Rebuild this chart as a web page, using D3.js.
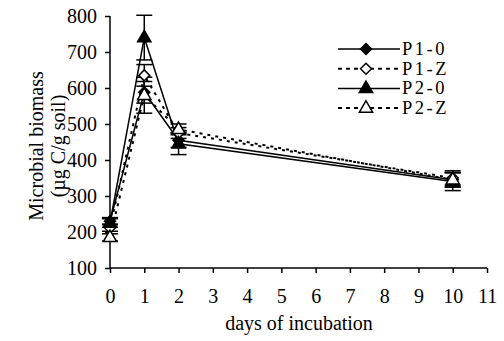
<!DOCTYPE html>
<html><head><meta charset="utf-8">
<script src="https://cdn.jsdelivr.net/npm/d3@7"></script>
<style>body{margin:0;background:#fff}svg{display:block}text{font-family:'Liberation Serif',serif;fill:#000}</style>
</head><body><svg id="c" width="504" height="341"></svg>
<script>
const days = [0, 1, 2, 10];
const seriesNames = ["P1-0", "P1-Z", "P2-0", "P2-Z"];
const p10 = [230, 588, 455, 345];
const p1z = [212, 635, 475, 350];
const p20 = [225, 740, 445, 340];
const p2z = [185, 580, 485, 345];
const p10err = [10, 30, 20, 20];
const p1zerr = [10, 30, 15, 20];
const p20err = [12, 62, 30, 25];
const p2zerr = [10, 50, 15, 20];
const xTicks = [0,1,2,3,4,5,6,7,8,9,10,11];
const yTicks = [100,200,300,400,500,600,700,800];

const series = [
  {name: seriesNames[0], vals: p10, err: p10err, dashed: false, shape: "diamond", fill: "#000"},
  {name: seriesNames[1], vals: p1z, err: p1zerr, dashed: true, shape: "diamond", fill: "#fff"},
  {name: seriesNames[2], vals: p20, err: p20err, dashed: false, shape: "triangle", fill: "#000"},
  {name: seriesNames[3], vals: p2z, err: p2zerr, dashed: true, shape: "triangle", fill: "#fff"}
];

const FONT = "'Liberation Serif', 'Times New Roman', serif";
const svg = d3.select("#c");
const x = d3.scaleLinear().domain([0, 11]).range([110, 487]);
const y = d3.scaleLinear().domain([100, 800]).range([268, 16]);

function diamondPath(s){ return `M0,${-s}L${s},0L0,${s}L${-s},0Z`; }
function triPath(s){ return `M0,${-s*1.05}L${s*0.95},${s*0.6}L${-s*0.95},${s*0.6}Z`; }
function shapePath(d){ return d.shape === "diamond" ? diamondPath(5.5) : triPath(7); }

// axes
const yAxis = svg.append("g").attr("transform", "translate(110,0)")
  .call(d3.axisLeft(y).tickValues(yTicks).tickSize(5).tickPadding(8).tickFormat(d3.format("d")));
const xAxis = svg.append("g").attr("transform", "translate(0,268)")
  .call(d3.axisBottom(x).tickValues(xTicks).tickSize(5).tickPadding(16).tickFormat(d3.format("d")));
[yAxis, xAxis].forEach(g => {
  g.attr("font-family", FONT).attr("font-size", 20);
  g.select(".domain").attr("stroke", "#000").attr("stroke-width", 1.5);
  g.selectAll(".tick line").attr("stroke", "#000").attr("stroke-width", 1.5);
  g.selectAll("text").attr("fill", "#000");
});
yAxis.select(".domain").attr("d", "M0,268V16");
xAxis.select(".domain").attr("d", "M110,0H487");

// axis titles
svg.append("text").attr("transform", "translate(43,146) rotate(-90)").attr("text-anchor", "middle")
  .style("font-size", "20px").text("Microbial biomass");
svg.append("text").attr("transform", "translate(65,146) rotate(-90)").attr("text-anchor", "middle")
  .style("font-size", "20px").text("(µg C/g soil)");
svg.append("text").attr("x", 299).attr("y", 330).attr("text-anchor", "middle")
  .style("font-size", "20px").text("days of incubation");

const line = d3.line().x((d, i) => x(days[i])).y(d => y(d));
const plot = svg.append("g");
series.forEach(s => {
  plot.append("path").attr("d", line(s.vals)).attr("fill", "none").attr("stroke", "#000")
    .attr("stroke-width", s.dashed ? 2 : 1.5).attr("stroke-dasharray", s.dashed ? "3,5" : null);
});
series.forEach(s => {
  s.vals.forEach((v, i) => {
    const cx = x(days[i]);
    const g = plot.append("g").attr("stroke", "#000").attr("stroke-width", 1.5);
    g.append("line").attr("x1", cx).attr("x2", cx).attr("y1", y(v - s.err[i])).attr("y2", y(v + s.err[i]));
    g.append("line").attr("x1", cx - 8).attr("x2", cx + 8).attr("y1", y(v - s.err[i])).attr("y2", y(v - s.err[i]));
    g.append("line").attr("x1", cx - 8).attr("x2", cx + 8).attr("y1", y(v + s.err[i])).attr("y2", y(v + s.err[i]));
  });
});
series.forEach(s => {
  plot.selectAll(null).data(s.vals).enter().append("path")
    .attr("transform", (d, i) => `translate(${x(days[i])},${y(d)})`)
    .attr("d", shapePath(s)).attr("fill", s.fill).attr("stroke", "#000").attr("stroke-width", 1.5);
});

// legend
const leg = svg.append("g");
series.forEach((s, i) => {
  const ly = 49 + i * 19.7;
  leg.append("line").attr("x1", 338).attr("x2", 400).attr("y1", ly).attr("y2", ly)
    .attr("stroke", "#000").attr("stroke-width", s.dashed ? 2 : 1.5).attr("stroke-dasharray", s.dashed ? "4,4" : null);
  leg.append("path").attr("transform", `translate(366,${ly})`).attr("d", shapePath(s))
    .attr("fill", s.fill).attr("stroke", "#000").attr("stroke-width", 1.5);
  leg.append("text").attr("x", 402).attr("y", ly + 6).style("font-size", "18.5px").style("letter-spacing", "2.5px").text(s.name);
});
</script></body></html>
